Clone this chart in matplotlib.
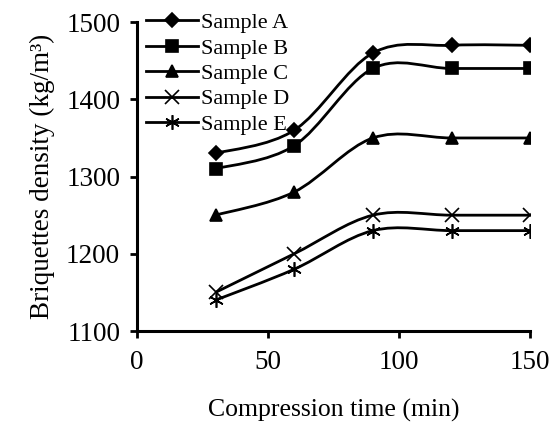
import numpy as np
import matplotlib
matplotlib.use("Agg")
import matplotlib.pyplot as plt
from matplotlib.path import Path
from matplotlib.patches import PathPatch
from matplotlib.lines import Line2D

plt.rcParams["font.family"] = ["Liberation Serif", "DejaVu Serif"]

# compression time (min)
time = [30, 60, 90, 120, 150]
sample_a = [1330, 1360, 1460, 1470, 1470]
sample_b = [1310, 1340, 1440, 1440, 1440]
sample_c = [1250, 1280, 1350, 1350, 1350]
sample_d = [1150, 1200, 1250, 1250, 1250]
sample_e = [1140, 1180, 1230, 1230, 1230]
labels = ["Sample A", "Sample B", "Sample C", "Sample D", "Sample E"]

markers = ["D", "s", "^", "x", (6, 2, 0)]
msizes = [7, 8, 8, 9.5, 10.5]


def smooth_path(x, y):
    # excel-like smoothed line: catmull-rom segments as cubic beziers
    p = np.column_stack([x, y]).astype(float)
    n = len(p)
    verts = [p[0]]
    codes = [Path.MOVETO]
    for i in range(n - 1):
        p0 = p[i - 1] if i > 0 else p[i]
        p3 = p[i + 2] if i + 2 < n else p[i + 1]
        c1 = p[i] + (p[i + 1] - p0) / 6
        c2 = p[i + 1] - (p3 - p[i]) / 6
        verts += [c1, c2, p[i + 1]]
        codes += [Path.CURVE4] * 3
    return Path(verts, codes)


fig = plt.figure(figsize=(5.54, 4.26), dpi=100)
ax = fig.add_axes([0.247, 0.223, 0.71, 0.725])

handles = []
for ys, lab, m, ms in zip([sample_a, sample_b, sample_c, sample_d, sample_e], labels, markers, msizes):
    ax.add_patch(PathPatch(smooth_path(time, ys), fill=False, edgecolor="black", lw=2))
    ax.plot(time, ys, ls="none", marker=m, ms=ms, color="black", mew=1.2)
    handles.append(Line2D([], [], color="black", lw=2, marker=m, ms=ms, mew=1.2, label=lab))

ax.set_xlim(0, 150)
ax.set_ylim(1100, 1500)
ax.set_xticks([0, 50, 100, 150])
ax.set_yticks([1100, 1200, 1300, 1400, 1500])
ax.tick_params(direction="out", length=5, width=2, labelsize=19.5)
ax.tick_params(axis="x", pad=9)
ax.tick_params(axis="y", pad=7)
for s in ["top", "right"]:
    ax.spines[s].set_visible(False)
for s in ["left", "bottom"]:
    ax.spines[s].set_linewidth(2.2)

ax.set_xlabel("Compression time (min)", fontsize=18.5, labelpad=17)
ax.set_ylabel("Briquettes density (kg/m³)", fontsize=19.5, labelpad=8)

ax.legend(handles=handles, loc="upper left", bbox_to_anchor=(0.0, 1.06), frameon=False,
          fontsize=16, handlelength=2.35, labelspacing=0.22, handletextpad=0.15,
          borderaxespad=0.2, borderpad=0.2)

fig.savefig("out.png", dpi=100)
